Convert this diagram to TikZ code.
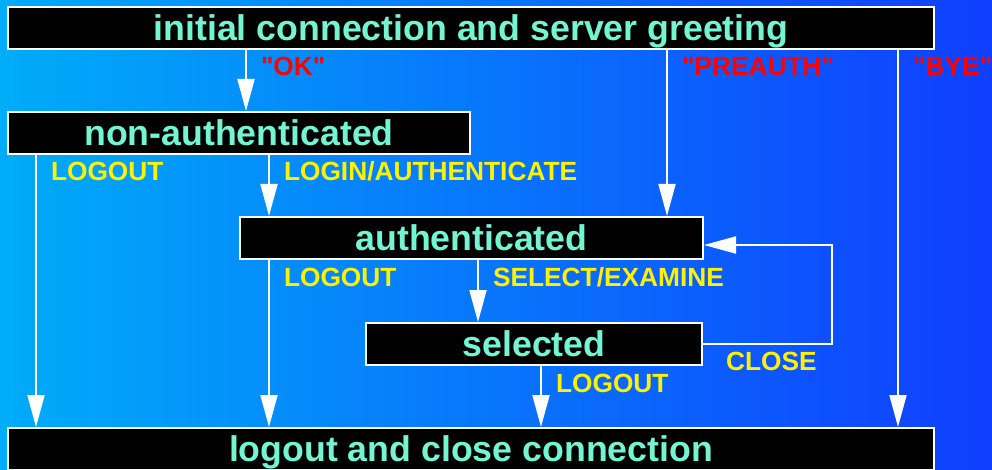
\documentclass[tikz,border=0pt]{standalone}
\usepackage{fontspec}
\newfontfamily\diagfont{Liberation Sans}
\usetikzlibrary{arrows.meta}
\definecolor{bgleft}{RGB}{0,172,248}
\definecolor{bgright}{RGB}{16,62,255}
\definecolor{statetext}{RGB}{115,245,210}
\tikzset{
    statesty/.style={draw=white,line width=2pt,fill=black,rectangle,inner sep=0pt,
        minimum height=42pt,text height=25pt,text depth=0pt,text=statetext,
        font=\diagfont\fontsize{35.7}{40}\selectfont\bfseries},
    lblsty/.style={anchor=base west,inner sep=0pt,xshift=14pt,yshift=-26pt,
        font=\diagfont\fontsize{26.3}{30}\selectfont\bfseries},
    cmdsty/.style={lblsty,text=yellow},
    respsty/.style={lblsty,text=red},
    arrsty/.style={draw=white,line width=2pt,->},
}

\begin{document}
\begin{tikzpicture}[x=1pt,y=-1pt,>={Triangle[length=32pt,width=17pt]}]
\useasboundingbox (0,0) rectangle (992,470);
\clip (0,0) rectangle (992,470);
\shade[left color=bgleft,right color=bgright] (0,0) rectangle (992,470);

% states
\node[statesty,minimum width=926pt] (init)    at (471,28)    {initial connection and server greeting};
\node[statesty,minimum width=462pt] (nonauth) at (239,133)   {non-authenticated};
\node[statesty,minimum width=463pt] (auth)    at (471.5,238) {authenticated};
\node[statesty,minimum width=336pt] (sel)     at (534,344)   {selected};
\node[statesty,minimum width=926pt] (logout)  at (471,449)   {logout and close connection};

% server greetings
\draw[arrsty] (init.south -| 246,0) node[respsty] {"OK"}      -- (nonauth.north -| 246,0);
\draw[arrsty] (init.south -| 667,0) node[respsty] {"PREAUTH"} -- (auth.north -| 667,0);
\draw[arrsty] (init.south -| 898,0) node[respsty] {"BYE"}     -- (logout.north -| 898,0);

% client commands
\draw[arrsty] (nonauth.south -| 36,0)  node[cmdsty] {LOGOUT}              -- (logout.north -| 36,0);
\draw[arrsty] (nonauth.south -| 269,0) node[cmdsty] {LOGIN/AUTHENTICATE}  -- (auth.north -| 269,0);
\draw[arrsty] (auth.south -| 269,0)    node[cmdsty] {LOGOUT}              -- (logout.north -| 269,0);
\draw[arrsty] (auth.south -| 478,0)    node[cmdsty] {SELECT/EXAMINE}      -- (sel.north -| 478,0);
\draw[arrsty] (sel.south -| 541,0)     node[cmdsty] {LOGOUT}              -- (logout.north -| 541,0);
\draw[arrsty] (sel.east) node[cmdsty,xshift=8pt] {CLOSE} -| (832,245) -- (auth.east |- 832,245);
\end{tikzpicture}
\end{document}
